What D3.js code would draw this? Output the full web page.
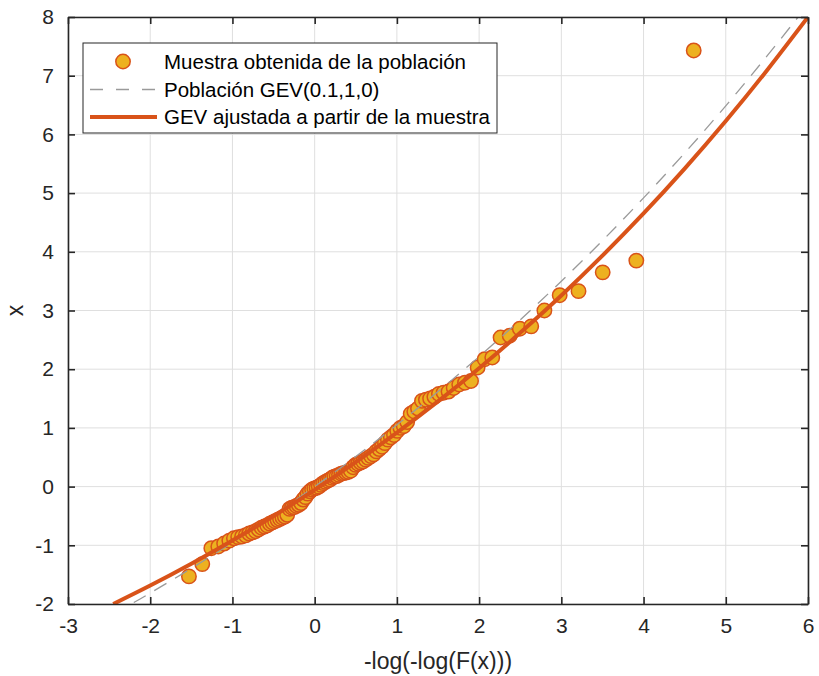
<!DOCTYPE html>
<html>
<head>
<meta charset="utf-8">
<script src="https://cdn.jsdelivr.net/npm/d3@7"></script>
<style>
  body { margin: 0; background: #fff; }
  svg { display: block; font-family: "Liberation Sans", Arial, sans-serif; }
</style>
</head>
<body>
<svg width="819" height="676"></svg>
<script>
(function () {

	// plotting positions -log(-log(i/101)) of the sample
	var sampleQ = [
		-1.529, -1.367, -1.257, -1.172, -1.101, -1.038, -0.982, -0.930, -0.883, -0.838,
		-0.796, -0.756, -0.718, -0.681, -0.646, -0.611, -0.578, -0.545, -0.513, -0.482,
		-0.452, -0.421, -0.392, -0.363, -0.334, -0.305, -0.277, -0.249, -0.221, -0.194,
		-0.166, -0.139, -0.112, -0.085, -0.058, -0.031, -0.004, 0.023, 0.050, 0.077,
		0.104, 0.131, 0.158, 0.185, 0.213, 0.240, 0.268, 0.296, 0.324, 0.352,
		0.381, 0.410, 0.439, 0.468, 0.498, 0.528, 0.559, 0.589, 0.621, 0.652,
		0.685, 0.717, 0.751, 0.785, 0.819, 0.855, 0.891, 0.927, 0.965, 1.004,
		1.043, 1.084, 1.125, 1.168, 1.212, 1.257, 1.305, 1.353, 1.404, 1.456,
		1.511, 1.568, 1.628, 1.691, 1.758, 1.828, 1.902, 1.982, 2.068, 2.160,
		2.261, 2.372, 2.495, 2.634, 2.794, 2.980, 3.209, 3.503, 3.912, 4.610
	];

	// sorted sample values
	var sampleX = [
		-1.53, -1.32, -1.05, -1.02, -0.97, -0.92, -0.88, -0.86, -0.85, -0.83,
		-0.80, -0.78, -0.76, -0.73, -0.70, -0.68, -0.66, -0.63, -0.61, -0.59,
		-0.57, -0.55, -0.53, -0.51, -0.48, -0.38, -0.36, -0.35, -0.33, -0.31,
		-0.28, -0.22, -0.18, -0.12, -0.08, -0.05, -0.03, -0.02, 0.00, 0.03,
		0.06, 0.08, 0.10, 0.12, 0.15, 0.17, 0.18, 0.20, 0.22, 0.23,
		0.24, 0.25, 0.27, 0.33, 0.37, 0.39, 0.41, 0.43, 0.46, 0.49,
		0.52, 0.55, 0.60, 0.64, 0.68, 0.74, 0.80, 0.84, 0.88, 0.95,
		1.00, 1.03, 1.10, 1.24, 1.28, 1.33, 1.46, 1.48, 1.50, 1.53,
		1.58, 1.60, 1.62, 1.68, 1.74, 1.77, 1.80, 2.03, 2.17, 2.20,
		2.54, 2.57, 2.69, 2.73, 3.00, 3.26, 3.33, 3.65, 3.85, 7.43
	];

	// population GEV(0.1,1,0)
	var popQ = [-2.2, -2, -1.5, -1, -0.5, 0, 0.5, 1, 1.5, 2, 2.5, 3, 3.5, 4, 4.5, 5, 5.5, 5.88];
	var popX = [-1.975, -1.813, -1.393, -0.952, -0.488, 0, 0.513, 1.052, 1.618, 2.214, 2.840, 3.499, 4.191, 4.918, 5.683, 6.487, 7.333, 8.0];

	// fitted GEV
	var fitQ = [-2.45, -2, -1.5, -1, -0.5, 0, 0.5, 1, 1.5, 2, 2.5, 3, 3.5, 4, 4.5, 5, 5.5, 6];
	var fitX = [-2.0, -1.686, -1.314, -0.919, -0.500, -0.055, 0.417, 0.919, 1.452, 2.017, 2.619, 3.256, 3.934, 4.653, 5.417, 6.228, 7.089, 8.0];

	var xTicks = [-3, -2, -1, 0, 1, 2, 3, 4, 5, 6];
	var yTicks = [-2, -1, 0, 1, 2, 3, 4, 5, 6, 7, 8];

	var legendLabels = [
		"Muestra obtenida de la población",
		"Población GEV(0.1,1,0)",
		"GEV ajustada a partir de la muestra"
	];

	var margin = { left: 68, top: 17, right: 11, bottom: 72 };
	var width = 819 - margin.left - margin.right;
	var height = 676 - margin.top - margin.bottom;

	var axisColor = "#262626";
	var orange = "#D95319";
	var yellow = "#EDB120";

	var svg = d3.select("svg");

	var xScale = d3.scaleLinear().domain([-3, 6]).range([0, width]);
	var yScale = d3.scaleLinear().domain([-2, 8]).range([height, 0]);

	var g = svg.append("g")
		.attr("transform", "translate(" + margin.left + "," + margin.top + ")");

	svg.append("defs").append("clipPath")
		.attr("id", "plotclip")
		.append("rect")
		.attr("x", 0).attr("y", 0)
		.attr("width", width).attr("height", height);

	// grid
	g.selectAll("line.vgrid")
		.data(xTicks)
		.enter()
		.append("line")
		.attr("class", "vgrid")
		.attr("x1", function (d) { return xScale(d); })
		.attr("x2", function (d) { return xScale(d); })
		.attr("y1", 0)
		.attr("y2", height)
		.attr("stroke", "#dfdfdf")
		.attr("stroke-width", 1);

	g.selectAll("line.hgrid")
		.data(yTicks)
		.enter()
		.append("line")
		.attr("class", "hgrid")
		.attr("y1", function (d) { return yScale(d); })
		.attr("y2", function (d) { return yScale(d); })
		.attr("x1", 0)
		.attr("x2", width)
		.attr("stroke", "#dfdfdf")
		.attr("stroke-width", 1);

	var plot = g.append("g").attr("clip-path", "url(#plotclip)");

	// sample points
	plot.selectAll("circle")
		.data(sampleQ)
		.enter()
		.append("circle")
		.attr("cx", function (d) { return xScale(d); })
		.attr("cy", function (d, i) { return yScale(sampleX[i]); })
		.attr("r", 7.2)
		.attr("fill", yellow)
		.attr("stroke", orange)
		.attr("stroke-width", 1.5);

	var line = d3.line()
		.x(function (d) { return xScale(d[0]); })
		.y(function (d) { return yScale(d[1]); })
		.curve(d3.curveNatural);

	plot.append("path")
		.datum(d3.zip(popQ, popX))
		.attr("d", line)
		.attr("fill", "none")
		.attr("stroke", "#9a9a9a")
		.attr("stroke-width", 1.3)
		.attr("stroke-dasharray", "14,10");

	plot.append("path")
		.datum(d3.zip(fitQ, fitX))
		.attr("d", line)
		.attr("fill", "none")
		.attr("stroke", orange)
		.attr("stroke-width", 4);

	// axes box with inward ticks on all sides
	var tickLen = 7;
	var fmt = function (d) { return String(d); };
	var xAxisB = d3.axisBottom(xScale).tickValues(xTicks).tickSizeInner(-tickLen).tickSizeOuter(0).tickPadding(14).tickFormat(fmt);
	var xAxisT = d3.axisTop(xScale).tickValues(xTicks).tickSizeInner(-tickLen).tickSizeOuter(0).tickFormat("");
	var yAxisL = d3.axisLeft(yScale).tickValues(yTicks).tickSizeInner(-tickLen).tickSizeOuter(0).tickPadding(14).tickFormat(fmt);
	var yAxisR = d3.axisRight(yScale).tickValues(yTicks).tickSizeInner(-tickLen).tickSizeOuter(0).tickFormat("");

	var axes = [
		g.append("g").attr("transform", "translate(0," + height + ")").call(xAxisB),
		g.append("g").call(xAxisT),
		g.append("g").call(yAxisL),
		g.append("g").attr("transform", "translate(" + width + ",0)").call(yAxisR)
	];

	axes.forEach(function (a) {
		a.select(".domain").attr("stroke", axisColor).attr("stroke-width", 1.6);
		a.selectAll(".tick line").attr("stroke", axisColor).attr("stroke-width", 1.6);
		a.selectAll(".tick text")
			.attr("fill", axisColor)
			.style("font-size", "21px")
			.style("font-family", "'Liberation Sans', Arial, sans-serif");
	});

	// axis labels
	svg.append("text")
		.attr("x", margin.left + width / 2)
		.attr("y", 669)
		.attr("text-anchor", "middle")
		.attr("fill", axisColor)
		.style("font-size", "23px")
		.text("-log(-log(F(x)))");

	svg.append("text")
		.attr("transform", "translate(23," + (margin.top + height / 2) + ") rotate(-90)")
		.attr("text-anchor", "middle")
		.attr("fill", axisColor)
		.style("font-size", "23px")
		.text("x");

	// legend
	var legend = svg.append("g").attr("transform", "translate(83,43)");

	legend.append("rect")
		.attr("x", 0).attr("y", 0)
		.attr("width", 414).attr("height", 90)
		.attr("fill", "#fff")
		.attr("stroke", axisColor)
		.attr("stroke-width", 1);

	var rowY = [18.5, 46.5, 74];

	legend.append("circle")
		.attr("cx", 40).attr("cy", rowY[0]).attr("r", 7.2)
		.attr("fill", yellow).attr("stroke", orange).attr("stroke-width", 1.5);

	legend.append("line")
		.attr("x1", 7).attr("x2", 74)
		.attr("y1", rowY[1]).attr("y2", rowY[1])
		.attr("stroke", "#9a9a9a").attr("stroke-width", 1.3)
		.attr("stroke-dasharray", "13,13");

	legend.append("line")
		.attr("x1", 7).attr("x2", 74)
		.attr("y1", rowY[2]).attr("y2", rowY[2])
		.attr("stroke", orange).attr("stroke-width", 4);

	legend.selectAll("text")
		.data(legendLabels)
		.enter()
		.append("text")
		.attr("x", 81)
		.attr("y", function (d, i) { return rowY[i]; })
		.attr("dy", "0.35em")
		.attr("fill", "#000")
		.style("font-size", "20.5px")
		.text(function (d) { return d; });

})();
</script>
</body>
</html>
